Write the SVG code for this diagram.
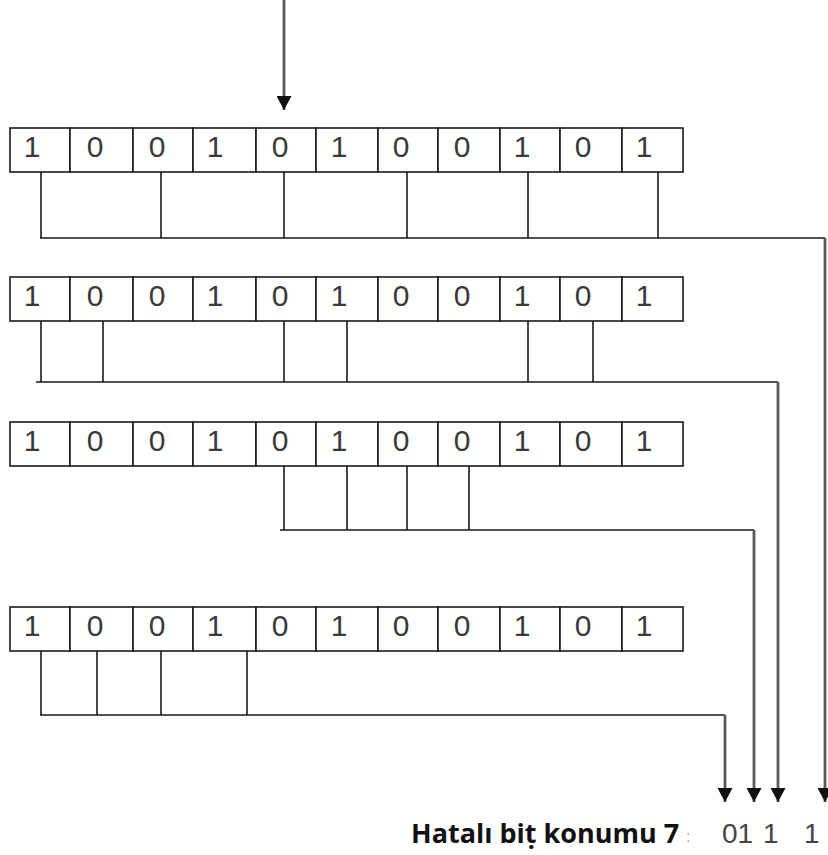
<svg xmlns="http://www.w3.org/2000/svg" width="828" height="855" viewBox="0 0 828 855">
<style>
.cell{fill:#fff;stroke:#1a1a1a;stroke-width:1.6}
.d{font-family:"Liberation Sans",Arial,sans-serif;font-size:30px;fill:#3a3a3a;text-anchor:middle}
.c{fill:none;stroke:#1a1a1a;stroke-width:1.6}
.a{fill:none;stroke:#5a5a5a;stroke-width:2.8}
.lbl{font-family:"Open Sans","Liberation Sans",Arial,sans-serif;font-size:27px;font-weight:bold;fill:#111}
.res{font-family:"Liberation Sans",Arial,sans-serif;font-size:28px;fill:#444}
</style>
<defs>
<marker id="ah" markerUnits="userSpaceOnUse" viewBox="0 0 14 15" refX="14" refY="7.5" markerWidth="14" markerHeight="15" orient="auto">
<path d="M0,0 L14,7.5 L0,15 z" fill="#111"/>
</marker>
<g id="cells">
<rect class="cell" x="10" y="0" width="60" height="44"/>
<rect class="cell" x="70" y="0" width="63" height="44"/>
<rect class="cell" x="133" y="0" width="60" height="44"/>
<rect class="cell" x="193" y="0" width="63" height="44"/>
<rect class="cell" x="256" y="0" width="60" height="44"/>
<rect class="cell" x="316" y="0" width="62" height="44"/>
<rect class="cell" x="378" y="0" width="60" height="44"/>
<rect class="cell" x="438" y="0" width="62" height="44"/>
<rect class="cell" x="500" y="0" width="60" height="44"/>
<rect class="cell" x="560" y="0" width="62" height="44"/>
<rect class="cell" x="622" y="0" width="61" height="44"/>
<text class="d" x="32" y="29">1</text>
<text class="d" x="95" y="29">0</text>
<text class="d" x="157" y="29">0</text>
<text class="d" x="215" y="29">1</text>
<text class="d" x="280" y="29">0</text>
<text class="d" x="339" y="29">1</text>
<text class="d" x="401" y="29">0</text>
<text class="d" x="462" y="29">0</text>
<text class="d" x="522" y="29">1</text>
<text class="d" x="583" y="29">0</text>
<text class="d" x="644" y="29">1</text>
</g>
</defs>
<rect x="0" y="0" width="828" height="855" fill="#fff"/>
<g id="row1"><use href="#cells" y="128"/></g>
<g id="row2"><use href="#cells" y="277"/></g>
<g id="row3"><use href="#cells" y="422"/></g>
<g id="row4"><use href="#cells" y="607"/></g>
<g id="connectors">
<line class="a" x1="284" y1="0" x2="284" y2="110" marker-end="url(#ah)"/>
<path class="c" d="M41,172 V238 M161,172 V238 M284,172 V238 M407,172 V238 M528,172 V238 M658,172 V238 M40,238 H825"/>
<line class="a" x1="825" y1="238" x2="825" y2="802" marker-end="url(#ah)"/>
<path class="c" d="M41,321 V382 M103,321 V382 M284,321 V382 M347,321 V382 M528,321 V382 M593,321 V382 M36,382 H778"/>
<line class="a" x1="778" y1="382" x2="778" y2="802" marker-end="url(#ah)"/>
<path class="c" d="M284,466 V530 M347,466 V530 M407,466 V530 M469,466 V530 M280,530 H754"/>
<line class="a" x1="754" y1="530" x2="754" y2="802" marker-end="url(#ah)"/>
<path class="c" d="M41,651 V715 M97,651 V715 M161,651 V715 M247,651 V715 M40,715 H725"/>
<line class="a" x1="725" y1="715" x2="725" y2="802" marker-end="url(#ah)"/>
</g>
<g id="result">
<text class="lbl" x="411" y="843">Hatalı biṭ konumu 7</text>
<text x="686" y="842" font-family="Liberation Sans,Arial,sans-serif" font-size="16" fill="#aaa">:</text>
<text class="res" x="722" y="843">01</text>
<text class="res" x="763" y="843">1</text>
<text class="res" x="804" y="843">1</text>
</g>
</svg>
